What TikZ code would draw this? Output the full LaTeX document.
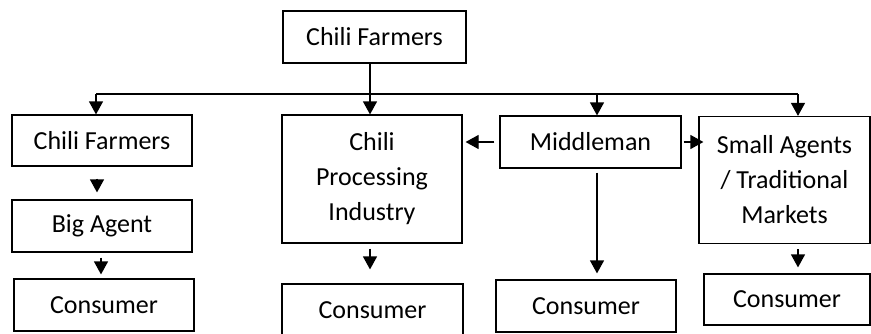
\documentclass[tikz,border=0pt]{standalone}
\usepackage{fontspec}
\setmainfont{Carlito}
\usetikzlibrary{arrows.meta}
\begin{document}
\begin{tikzpicture}[x=1pt,y=-1pt,
  box/.style={draw, line width=1.2pt, inner sep=0pt, align=center,
    font=\fontsize{26}{35}\selectfont},
  arr/.style={line width=1.2pt, -{Triangle[length=13pt,width=14pt]}},
  ln/.style={line width=1.2pt}]
\useasboundingbox (0,0) rectangle (871,333);
% boxes
\node[box, minimum width=183pt, minimum height=52pt] (top) at (374.5,37) {Chili Farmers};
\node[box, minimum width=180pt, minimum height=51pt] (cf) at (102,140.5) {Chili Farmers};
\node[box, minimum width=180pt, minimum height=128pt] (proc) at (372,179) {Chili\\Processing\\Industry};
\node[box, minimum width=181pt, minimum height=52pt] (mid) at (590.5,142) {Middleman};
\node[box, minimum width=171pt, minimum height=127pt] (small) at (784.5,180) {Small Agents\\/ Traditional\\Markets};
\node[box, minimum width=180pt, minimum height=52pt] (big) at (102,226) {Big Agent};
\node[box, minimum width=180pt, minimum height=52pt] (con1) at (104,305) {Consumer};
\node[box, minimum width=181pt, minimum height=52pt] (con2) at (372.5,310) {Consumer};
\node[box, minimum width=180pt, minimum height=52pt] (con3) at (586,306) {Consumer};
\node[box, minimum width=166pt, minimum height=51pt] (con4) at (787,299.5) {Consumer};
% distribution line
\coordinate (hl) at (96,94);
\coordinate (hr) at (798,94);
\coordinate (vx) at (370,0);
\coordinate (mx) at (597,0);
\coordinate (ax) at (97,0);
\coordinate (bx) at (101,0);
\draw[ln] (hl) -- (hr);
\draw[ln] (top.south -| vx) -- (hl -| vx);
\draw[arr] (hl) -- (cf.north -| hl);
\draw[arr] (hl -| vx) -- (proc.north -| vx);
\draw[arr] (hl -| mx) -- (mid.north -| mx);
\draw[arr] (hr) -- (small.north -| hr);
% side arrows
\draw[arr, shorten <=5pt, shorten >=3pt] (mid.west) -- (mid.west -| proc.east);
\draw[arr, shorten <=2pt, shorten >=-5pt] (mid.east) -- (mid.east -| small.west);
% down arrows
\draw[arr, shorten <=12pt, shorten >=7pt] (cf.south -| ax) -- (big.north -| ax);
\draw[arr, shorten <=5pt, shorten >=4pt] (big.south -| bx) -- (con1.north -| bx);
\draw[arr, shorten <=5pt, shorten >=14pt] (proc.south -| vx) -- (con2.north -| vx);
\draw[arr, shorten <=4pt, shorten >=6pt] (mid.south -| mx) -- (con3.north -| mx);
\draw[arr, shorten <=5pt, shorten >=6pt] (small.south -| hr) -- (con4.north -| hr);
\end{tikzpicture}
\end{document}
